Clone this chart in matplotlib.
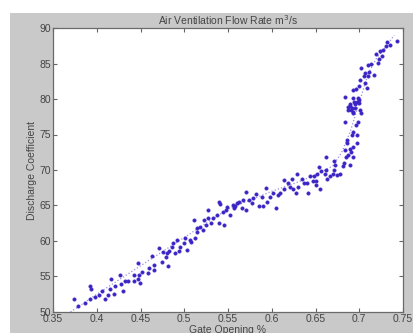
import matplotlib
matplotlib.use("Agg")
import matplotlib.pyplot as plt
from matplotlib.patches import Rectangle

# Scatter data (Gate Opening, Discharge Coefficient)
gate_opening = [
    0.374, 0.378, 0.387, 0.392, 0.393, 0.392, 0.398, 0.403, 0.406, 0.409,
    0.413, 0.415, 0.416, 0.420, 0.421, 0.426, 0.428, 0.430, 0.432, 0.436,
    0.442, 0.443, 0.447, 0.447, 0.448, 0.449, 0.452, 0.458, 0.460, 0.463,
    0.465, 0.465, 0.471, 0.475, 0.476, 0.479, 0.480, 0.481, 0.483, 0.486,
    0.487, 0.489, 0.492, 0.494, 0.495, 0.500, 0.501, 0.503, 0.508, 0.507,
    0.511, 0.512, 0.514, 0.515, 0.518, 0.521, 0.523, 0.525, 0.527, 0.527,
    0.531, 0.533, 0.537, 0.540, 0.541, 0.540, 0.544, 0.545, 0.548, 0.552,
    0.556, 0.557, 0.560, 0.549, 0.558, 0.562, 0.566, 0.567, 0.571, 0.571,
    0.574, 0.577, 0.579, 0.582, 0.585, 0.589, 0.590, 0.593, 0.595, 0.598,
    0.601, 0.605, 0.607, 0.610, 0.614, 0.614, 0.619, 0.621, 0.623, 0.624,
    0.628, 0.629, 0.630, 0.635, 0.637, 0.640, 0.641, 0.644, 0.647, 0.648,
    0.651, 0.651, 0.655, 0.654, 0.652, 0.656, 0.661, 0.662, 0.662, 0.663,
    0.667, 0.671, 0.672, 0.671, 0.670, 0.674, 0.678, 0.681, 0.683, 0.684,
    0.686, 0.685, 0.687, 0.689, 0.689, 0.691, 0.693, 0.693, 0.692, 0.693,
    0.697, 0.698, 0.696, 0.699, 0.684, 0.686, 0.691, 0.693, 0.687, 0.690,
    0.692, 0.695, 0.698, 0.702, 0.700, 0.743, 0.732, 0.735, 0.731, 0.727,
    0.724, 0.719, 0.726, 0.723, 0.721, 0.714, 0.710, 0.711, 0.707, 0.702,
    0.717, 0.710, 0.705, 0.701, 0.707, 0.709, 0.696, 0.693, 0.700, 0.684,
    0.693, 0.699, 0.694, 0.700, 0.689, 0.695, 0.701, 0.687, 0.693,
]
discharge_coef = [
    51.8, 50.8, 51.2, 51.8, 53.2, 53.7, 52.1, 52.4, 53.0, 51.9,
    52.4, 53.2, 54.6, 52.5, 53.7, 55.2, 54.0, 53.0, 54.4, 54.4,
    55.2, 54.4, 54.6, 56.9, 55.2, 54.1, 55.7, 55.5, 56.2, 57.9,
    55.9, 56.6, 59.0, 57.1, 58.5, 57.8, 58.3, 56.5, 58.6, 59.2,
    59.7, 58.3, 60.2, 58.6, 59.2, 59.7, 60.4, 58.7, 59.8, 60.2,
    62.9, 60.4, 61.3, 61.8, 62.0, 61.5, 63.0, 62.3, 64.4, 63.2,
    62.5, 63.3, 63.7, 65.5, 65.2, 62.6, 64.1, 62.3, 64.4, 63.7,
    65.1, 64.6, 65.3, 64.8, 64.9, 65.5, 64.6, 65.8, 66.9, 64.4,
    65.8, 65.3, 66.0, 66.6, 64.9, 66.2, 64.9, 67.4, 65.5, 66.2,
    66.8, 64.7, 66.5, 66.7, 68.6, 67.3, 68.2, 67.6, 68.7, 67.3,
    66.8, 69.4, 67.6, 68.8, 68.2, 68.2, 66.8, 69.1, 68.5, 69.2,
    68.5, 67.9, 67.3, 70.4, 69.4, 69.8, 69.4, 71.9, 70.0, 68.8,
    69.2, 71.3, 70.7, 70.0, 69.4, 69.3, 69.4, 70.6, 71.0, 72.8,
    73.8, 71.9, 72.1, 70.7, 72.9, 72.6, 73.3, 71.9, 74.9, 75.4,
    73.8, 74.9, 76.3, 76.8, 76.8, 74.2, 78.5, 78.0, 78.9, 79.3,
    78.8, 79.3, 79.6, 78.0, 79.8, 88.2, 88.0, 87.6, 87.4, 86.9,
    86.7, 86.4, 86.1, 85.7, 85.1, 85.0, 84.8, 83.8, 83.7, 84.3,
    83.4, 83.2, 83.2, 82.7, 82.3, 81.6, 81.4, 81.2, 81.8, 80.3,
    80.2, 80.1, 79.6, 79.5, 79.0, 78.8, 78.5, 78.5, 78.2,
]

# Trend curve (dotted)
trend_x = [0.370, 0.400, 0.450, 0.500, 0.550, 0.600, 0.630, 0.650, 0.670,
           0.680, 0.690, 0.700, 0.710, 0.720, 0.730, 0.740]
trend_y = [50.0, 52.5, 56.5, 60.5, 64.5, 67.0, 68.3, 69.3, 70.6,
           72.5, 75.5, 79.5, 83.5, 85.8, 87.3, 89.0]

xticks = [0.35, 0.4, 0.45, 0.5, 0.55, 0.6, 0.65, 0.7, 0.75]
xticklabels = ["0.35", "0.4", "0.45", "0.5", "0.55", "0.6", "0.65", "0.7", "0.75"]
yticks = [50, 55, 60, 65, 70, 75, 80, 85, 90]

plt.rcParams['font.family'] = ['Liberation Sans', 'DejaVu Sans']

W, H = 414, 333
fig = plt.figure(figsize=(W / 100, H / 100), dpi=100, facecolor='white')
fig.patches.append(Rectangle((10 / W, 0), 1, (H - 13) / H, transform=fig.transFigure,
                             facecolor='#c9c9c9', edgecolor='none', zorder=-10))

ax = fig.add_axes([53 / W, (H - 312) / H, (403 - 53) / W, (312 - 28) / H])
ax.set_facecolor('white')

ax.plot(trend_x, trend_y, linestyle=':', color='#9a8fe0', linewidth=0.9, zorder=2)
ax.plot(gate_opening, discharge_coef, linestyle='none', marker='o', markersize=2.6,
        color='#3a24c6', markeredgewidth=0.2, zorder=3)

ax.set_xlim(0.35, 0.75)
ax.set_ylim(50, 90)
ax.set_xticks(xticks)
ax.set_xticklabels(xticklabels)
ax.set_yticks(yticks)

tc = '#454545'
ax.tick_params(direction='in', length=3, width=0.8, colors='#666666',
               top=True, right=True, labelsize=7.5, labelcolor=tc, pad=1.5)
for s in ax.spines.values():
    s.set_color('#6a6a6a')
    s.set_linewidth(0.9)

ax.set_title('Air Ventilation Flow Rate m$^3$/s', fontsize=7.5, color=tc, pad=2)
ax.set_xlabel('Gate Opening %', fontsize=7.5, color=tc, labelpad=1)
ax.set_ylabel('Discharge Coefficient', fontsize=7.5, color=tc, labelpad=2)

fig.savefig('out.png', dpi=100, facecolor='white')
